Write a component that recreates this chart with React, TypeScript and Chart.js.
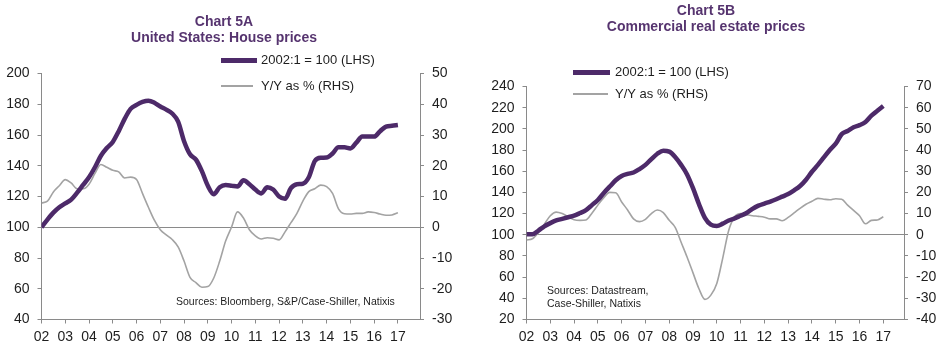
import React, { useEffect, useRef } from "react";
import { Chart, registerables } from "chart.js";
Chart.register(...registerables);

const FONT = "Arial, 'Liberation Sans', Helvetica, sans-serif";
const PURPLE = "#4d2a69";
const TITLE_COLOR = "#56346f";
const GREY = "#a3a3a3";
const AXIS = "#8a8a8a";
const TEXT = "#1e1e1e";

// quarterly observation dates (category grid)
const quarters = Array.from({ length: 61 }, (_, i) => 2002 + i / 4);
const yearTicks = [2002, 2003, 2004, 2005, 2006, 2007, 2008, 2009, 2010, 2011, 2012, 2013, 2014, 2015, 2016, 2017];
const yearLabels = ["02", "03", "04", "05", "06", "07", "08", "09", "10", "11", "12", "13", "14", "15", "16", "17"];

// Chart 5A: US house prices (2002:1 = 100) and Y/Y %
const houseIndex = [
  100, 105, 109.5, 113, 115.5, 118, 122.5, 127.5, 132.5, 139, 146.5, 151.5,
  155.5, 162.5, 170.5, 177, 179.6, 181.5, 182.3, 181, 178.5, 176.5, 174, 168.7,
  156, 147.5, 144, 136.5, 127, 121.5, 126, 127.4, 127, 126.5, 130.5, 128,
  124.5, 122, 126, 124.5, 120, 118.5, 125.5, 128, 128.3, 132.5, 143, 145.2,
  145.3, 148, 152, 152, 151.3, 155, 159, 159, 159, 162.5, 165.5, 166, 166.5,
];
const houseYoY = [
  7.9, 8.5, 11.5, 13.5, 15.5, 14.4, 12.5, 12.5, 14, 17.5, 20.4, 19.5,
  18.5, 18, 16, 16.3, 15.5, 11, 6.5, 2.3, -0.8, -2.5, -4, -6.4,
  -11, -16.3, -18, -19.5, -19.3, -16.5, -11, -4.5, 0.1, 5, 3, -0.8,
  -2.8, -3.8, -3.4, -3.6, -4.1, -1.5, 1.5, 4.5, 8.5, 11.6, 12.5, 13.7,
  13.2, 11, 6, 4.4, 4.3, 4.5, 4.5, 5, 4.8, 4.3, 3.9, 4, 4.7,
];

// Chart 5B: Commercial real estate prices (2002:1 = 100) and Y/Y %
const creIndex = [
  100.5, 100.5, 104, 108, 111, 113.5, 115, 116.5, 118, 120.5, 123.3, 128,
  132.8, 139.5, 145.5, 151.5, 155.5, 157.5, 158.8, 162, 166, 171.5, 176.5, 179.4,
  178.5, 173.5, 166, 157, 144, 129, 116, 109.5, 108.3, 110.5, 113.5, 115.5,
  118, 120.5, 124.5, 127.5, 129.5, 131.3, 133.5, 136, 138.5, 142, 146, 152,
  159.5, 166, 173, 180, 186, 195, 198, 201.5, 203.5, 206.5, 212.5, 217, 221.5,
];
const creYoY = [
  -2.5, -1.9, 1, 5, 9, 10.7, 10, 8.5, 7.1, 6.8, 7, 10.2,
  14, 17.5, 20, 19.8, 15.5, 11.7, 7.5, 6.2, 7.3, 10, 11.7, 10.5,
  6.8, 3.5, -3.5, -10.5, -18, -25.5, -30.5, -28.5, -23, -11, 2, 8.5,
  10, 9.5, 9, 8.7, 8.3, 7.5, 7.5, 6.6, 8.2, 10.3, 12.5, 14.4,
  15.8, 17.2, 16.8, 16.5, 17, 16.8, 14, 11.5, 9, 5.2, 6.8, 7, 8.5,
];

const lhsLabel = "2002:1 = 100 (LHS)";
const rhsLabel = "Y/Y as % (RHS)";

type Panel = {
  width: number;
  title: string[];
  titleX: number;
  titleY: number[];
  legendX: number;
  legendY: number[];
  legendLen: number[];
  textX: number;
  sources: string[];
  sourcesX: number;
  sourcesY: number[];
  area: { left: number; right: number; top: number; bottom: number };
  xMax: number;
  lhs: [number, number, number];
  rhs: [number, number, number];
  index: number[];
  yoy: number[];
};

const panelA: Panel = {
  width: 470,
  title: ["Chart 5A", "United States: House prices"],
  titleX: 224,
  titleY: [22, 38],
  legendX: 221,
  legendY: [60.5, 86],
  legendLen: [36, 32],
  textX: 261,
  sources: ["Sources: Bloomberg, S&P/Case-Shiller, Natixis"],
  sourcesX: 176,
  sourcesY: [302],
  area: { left: 41.5, right: 420, top: 73.5, bottom: 319.5 },
  xMax: 2017.93,
  lhs: [40, 200, 20],
  rhs: [-30, 50, 10],
  index: houseIndex,
  yoy: houseYoY,
};

const panelB: Panel = {
  width: 480,
  title: ["Chart 5B", "Commercial real estate prices"],
  titleX: 236,
  titleY: [11, 27],
  legendX: 103,
  legendY: [72.5, 94],
  legendLen: [37, 35],
  textX: 145,
  sources: ["Sources: Datastream,", "Case-Shiller, Natixis"],
  sourcesX: 77,
  sourcesY: [291, 304],
  area: { left: 56.5, right: 434, top: 86.5, bottom: 319.5 },
  xMax: 2017.87,
  lhs: [20, 240, 20],
  rhs: [-40, 70, 10],
  index: creIndex,
  yoy: creYoY,
};

function ChartPanel({ p }: { p: Panel }) {
  const ref = useRef<HTMLCanvasElement | null>(null);
  useEffect(() => {
    if (!ref.current) return;
    const H = 353;
    const annot = {
      id: "annot",
      afterDraw(chart: any) {
        const ctx = chart.ctx;
        ctx.save();
        ctx.textBaseline = "middle";
        ctx.fillStyle = TITLE_COLOR;
        ctx.textAlign = "center";
        ctx.font = `bold 14px ${FONT}`;
        p.title.forEach((t, i) => ctx.fillText(t, p.titleX, p.titleY[i]));
        // legend
        ctx.lineCap = "butt";
        ctx.strokeStyle = PURPLE;
        ctx.lineWidth = 5;
        ctx.beginPath();
        ctx.moveTo(p.legendX, p.legendY[0]);
        ctx.lineTo(p.legendX + p.legendLen[0], p.legendY[0]);
        ctx.stroke();
        ctx.strokeStyle = GREY;
        ctx.lineWidth = 2;
        ctx.beginPath();
        ctx.moveTo(p.legendX, p.legendY[1]);
        ctx.lineTo(p.legendX + p.legendLen[1], p.legendY[1]);
        ctx.stroke();
        ctx.fillStyle = TEXT;
        ctx.textAlign = "left";
        ctx.font = `13px ${FONT}`;
        ctx.fillText(lhsLabel, p.textX, p.legendY[0]);
        ctx.fillText(rhsLabel, p.textX, p.legendY[1]);
        ctx.font = `10.5px ${FONT}`;
        p.sources.forEach((t, i) => ctx.fillText(t, p.sourcesX, p.sourcesY[i]));
        ctx.restore();
      },
    };
    const chart = new Chart(ref.current, {
      type: "line",
      data: {
        datasets: [
          {
            label: lhsLabel,
            data: quarters.map((x, i) => ({ x, y: p.index[i] })),
            borderColor: PURPLE,
            borderWidth: 4.5,
            pointRadius: 0,
            cubicInterpolationMode: "monotone",
            yAxisID: "y",
          },
          {
            label: rhsLabel,
            data: quarters.map((x, i) => ({ x, y: p.yoy[i] })),
            borderColor: GREY,
            borderWidth: 1.6,
            pointRadius: 0,
            cubicInterpolationMode: "monotone",
            yAxisID: "y1",
          },
        ],
      },
      options: {
        animation: false,
        responsive: false,
        events: [],
        layout: { padding: { top: p.area.top, left: 0, right: 0, bottom: 0 } },
        plugins: { legend: { display: false }, tooltip: { enabled: false }, title: { display: false } },
        scales: {
          x: {
            type: "linear",
            min: 2002,
            max: p.xMax,
            afterBuildTicks: (s: any) => {
              s.ticks = yearTicks.map((v) => ({ value: v }));
            },
            afterFit: (s: any) => {
              s.height = H - p.area.bottom;
            },
            ticks: {
              autoSkip: false,
              maxRotation: 0,
              padding: 5,
              color: TEXT,
              font: { family: FONT, size: 14 },
              callback: (v: any) => yearLabels[yearTicks.indexOf(Number(v))] ?? "",
            },
            grid: { drawOnChartArea: false, drawTicks: true, tickLength: 4, color: AXIS },
            border: { display: true, color: AXIS },
          },
          y: {
            position: "left",
            min: p.lhs[0],
            max: p.lhs[1],
            afterFit: (s: any) => {
              s.width = p.area.left;
            },
            ticks: { stepSize: p.lhs[2], padding: 8, color: TEXT, font: { family: FONT, size: 14 } },
            grid: {
              drawOnChartArea: true,
              tickLength: 4,
              tickColor: AXIS,
              color: (c: any) => (c.tick && c.tick.value === 100 ? AXIS : "rgba(0,0,0,0)"),
            },
            border: { display: true, color: AXIS },
          },
          y1: {
            position: "right",
            min: p.rhs[0],
            max: p.rhs[1],
            afterFit: (s: any) => {
              s.width = p.width - p.area.right;
            },
            ticks: { stepSize: p.rhs[2], padding: 8, color: TEXT, font: { family: FONT, size: 14 } },
            grid: { drawOnChartArea: false, tickLength: 4, color: AXIS },
            border: { display: true, color: AXIS },
          },
        },
      },
      plugins: [annot],
    } as any);
    return () => chart.destroy();
  }, [p]);
  return <canvas ref={ref} width={p.width} height={353} style={{ display: "block", width: p.width, height: 353 }} />;
}

export default function App() {
  return (
    <div style={{ position: "fixed", left: 0, top: 0, width: 950, height: 353, display: "flex", background: "#fff" }}>
      <ChartPanel p={panelA} />
      <ChartPanel p={panelB} />
    </div>
  );
}
